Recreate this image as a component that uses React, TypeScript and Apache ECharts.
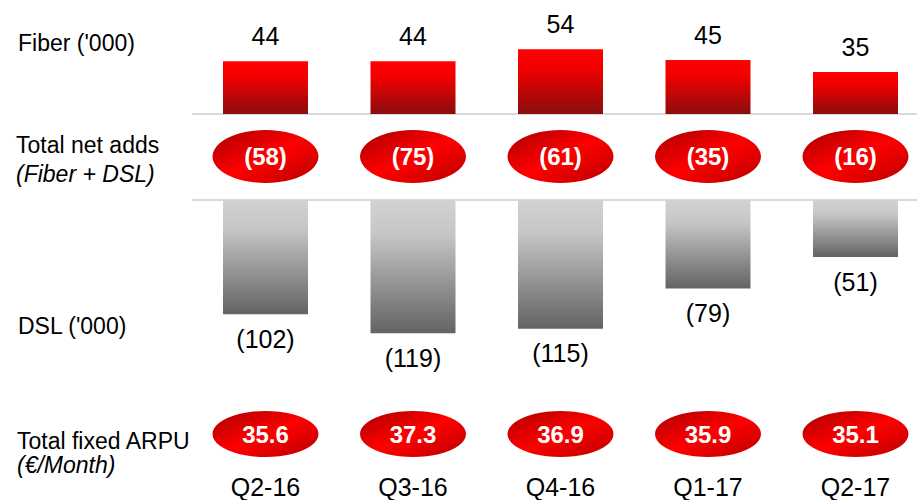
import React, { useEffect, useRef } from "react";
import * as echarts from "echarts";

const categories = ["Q2-16", "Q3-16", "Q4-16", "Q1-17", "Q2-17"];
const fiberAdds = [44, 44, 54, 45, 35];
const dslAdds = [-102, -119, -115, -79, -51];
const totalNetAdds = [-58, -75, -61, -35, -16];
const fixedArpu = [35.6, 37.3, 36.9, 35.9, 35.1];
const rowLabels = ["Fiber ('000)", "Total net adds", "(Fiber + DSL)", "DSL ('000)", "Total fixed ARPU", "(€/Month)"];

const FONT = "'Liberation Sans', Arial, Helvetica, sans-serif";
const paren = (v: number) => (v < 0 ? `(${Math.abs(v)})` : `${v}`);

export default function App() {
  const ref = useRef<HTMLDivElement>(null);
  useEffect(() => {
    document.body.style.margin = "0";
    if (!ref.current) return;
    const chart = echarts.init(ref.current, null, { renderer: "svg" });
    const red = new echarts.graphic.LinearGradient(0, 0, 0, 1, [
      { offset: 0, color: "#ff0000" },
      { offset: 0.3, color: "#f20000" },
      { offset: 1, color: "#8a0d0d" },
    ]);
    const grey = new echarts.graphic.LinearGradient(0, 0, 0, 1, [
      { offset: 0, color: "#d2d2d2" },
      { offset: 0.25, color: "#c6c6c6" },
      { offset: 1, color: "#636363" },
    ]);
    const ell = () =>
      new echarts.graphic.LinearGradient(0, 0, 1, 1, [
        { offset: 0, color: "#a80000" },
        { offset: 0.5, color: "#ff0000" },
        { offset: 1, color: "#b80000" },
      ]);
    const catAxis = (gridIndex: number, extra: any = {}) => ({
      type: "category",
      gridIndex,
      data: categories,
      boundaryGap: false,
      axisTick: { show: false },
      axisLabel: { show: false },
      axisLine: { show: false },
      splitLine: { show: false },
      ...extra,
    });
    const gridX = { left: 265.5, right: 61.5 };
    const labelStyle = { fontFamily: FONT, fontSize: 23, fill: "#000" };
    const sep = (y: number) => ({
      type: "line",
      silent: true,
      shape: { x1: 192, y1: y, x2: 917, y2: y },
      style: { stroke: "#d9d9d9", lineWidth: 2 },
    });
    chart.setOption({
      animation: false,
      grid: [
        { ...gridX, top: 24, height: 90 },
        { ...gridX, top: 200, height: 168 },
        { ...gridX, top: 130, height: 53 },
        { ...gridX, top: 411, height: 46 },
      ],
      xAxis: [
        catAxis(0),
        catAxis(1, { position: "top" }),
        catAxis(2),
        catAxis(3, {
          axisLabel: { show: true, margin: 17, fontSize: 25, color: "#000", fontFamily: FONT },
        }),
      ],
      yAxis: [
        { type: "value", gridIndex: 0, min: 0, max: 75, show: false },
        { type: "value", gridIndex: 1, min: -150, max: 0, show: false },
        { type: "value", gridIndex: 2, min: -1, max: 1, show: false },
        { type: "value", gridIndex: 3, min: -1, max: 1, show: false },
      ],
      series: [
        {
          type: "bar",
          xAxisIndex: 0,
          yAxisIndex: 0,
          data: fiberAdds,
          barWidth: 85,
          itemStyle: { color: red },
          label: { show: true, position: "top", distance: 13, fontSize: 25, color: "#000", fontFamily: FONT },
        },
        {
          type: "bar",
          xAxisIndex: 1,
          yAxisIndex: 1,
          data: dslAdds,
          barWidth: 85,
          itemStyle: { color: grey },
          label: {
            show: true,
            position: "bottom",
            distance: 12,
            fontSize: 25,
            color: "#000",
            fontFamily: FONT,
            formatter: (p: any) => paren(p.value),
          },
        },
        {
          type: "scatter",
          xAxisIndex: 2,
          yAxisIndex: 2,
          symbol: "circle",
          symbolSize: [106, 53],
          data: totalNetAdds.map((v, i) => ({ value: [categories[i], 0], raw: v })),
          itemStyle: { color: ell(), opacity: 1 },
          label: {
            show: true,
            position: "inside",
            fontSize: 24,
            fontWeight: "bold",
            color: "#fff",
            fontFamily: FONT,
            formatter: (p: any) => paren(p.data.raw),
          },
        },
        {
          type: "scatter",
          xAxisIndex: 3,
          yAxisIndex: 3,
          symbol: "circle",
          symbolSize: [106, 46],
          data: fixedArpu.map((v, i) => ({ value: [categories[i], 0], raw: v })),
          itemStyle: { color: ell(), opacity: 1 },
          label: {
            show: true,
            position: "inside",
            fontSize: 24,
            fontWeight: "bold",
            color: "#fff",
            fontFamily: FONT,
            formatter: (p: any) => p.data.raw.toFixed(1),
          },
        },
      ],
      graphic: [
        sep(114),
        sep(200),
        { type: "text", left: 18, top: 31, style: { ...labelStyle, text: rowLabels[0] } },
        { type: "text", left: 16, top: 133, style: { ...labelStyle, text: rowLabels[1] } },
        { type: "text", left: 16, top: 162, style: { ...labelStyle, text: rowLabels[2], fontStyle: "italic" } },
        { type: "text", left: 18, top: 314, style: { ...labelStyle, text: rowLabels[3] } },
        { type: "text", left: 17, top: 429, style: { ...labelStyle, text: rowLabels[4] } },
        { type: "text", left: 17, top: 453, style: { ...labelStyle, text: rowLabels[5], fontStyle: "italic" } },
      ],
    });
    return () => chart.dispose();
  }, []);
  return <div ref={ref} style={{ width: 917, height: 500 }} />;
}
